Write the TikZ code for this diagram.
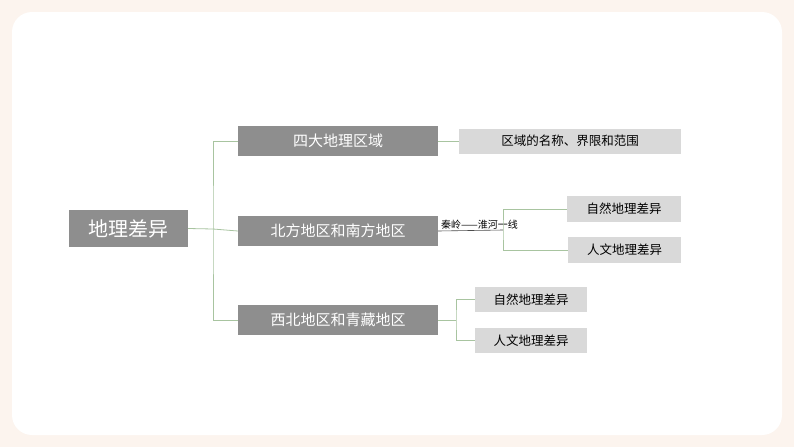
\documentclass[tikz,border=0pt]{standalone}
\usepackage{fontspec}
\newfontfamily\cjk{Noto Sans CJK SC}
\definecolor{dark}{HTML}{8E8E8E}
\definecolor{light}{HTML}{D9D9D9}
\definecolor{ln}{HTML}{A8C4A0}
\definecolor{bg}{HTML}{FCF4EE}
\begin{document}
\begin{tikzpicture}[x=1pt,y=-1pt,
 dbox/.style={fill=dark,text=white,font=\cjk\fontsize{15}{15}\selectfont,inner sep=0pt},
 lbox/.style={fill=light,text=black,font=\cjk\fontsize{12.5}{13}\selectfont,inner sep=0pt},
 conn/.style={draw=ln,line width=0.8pt}]
\useasboundingbox (0,0) rectangle (794,447);
\fill[bg] (0,0) rectangle (794,447);
\fill[white,rounded corners=20pt] (12,12) rectangle (782,435);
\node[dbox,minimum width=119pt,minimum height=37pt,font=\cjk\fontsize{20}{20}\selectfont] (root) at (128.5,228.5) {地理差异};
\node[dbox,minimum width=200pt,minimum height=30pt] (a) at (338,141) {四大地理区域};
\node[dbox,minimum width=200pt,minimum height=30pt] (b) at (338,231) {北方地区和南方地区};
\node[dbox,minimum width=200pt,minimum height=30pt] (c) at (338,320) {西北地区和青藏地区};
\node[lbox,minimum width=222pt,minimum height=25pt] (a1) at (570,141) {区域的名称、界限和范围};
\node[lbox,minimum width=114pt,minimum height=26pt] (b1) at (624,209) {自然地理差异};
\node[lbox,minimum width=113pt,minimum height=26pt] (b2) at (624.5,250) {人文地理差异};
\node[lbox,minimum width=112pt,minimum height=25pt] (c1) at (531,299.5) {自然地理差异};
\node[lbox,minimum width=112pt,minimum height=25pt] (c2) at (531,340.5) {人文地理差异};
\coordinate (t) at (213,229);
\coordinate (jb) at (503,230);
\coordinate (jc) at (456,320);
\draw[conn] (root.east) -- (t);
\draw[conn] (a.west) -| (t) |- (c.west);
\draw[conn] (t) -- (b.west);
\draw[conn] (a.east) -- (a1.west);
\draw[draw=black!70,line width=0.6pt] (b.east) -- (jb);
\node[font=\cjk\fontsize{10}{10}\selectfont,anchor=south west,inner sep=1pt] (q) at (440,230) {秦岭——淮河一线};
\draw[conn] (b1.west) -| (jb) |- (b2.west);
\draw[conn] (c.east) -- (jc);
\draw[conn] (c1.west) -| (jc) |- (c2.west);
\end{tikzpicture}
\end{document}
